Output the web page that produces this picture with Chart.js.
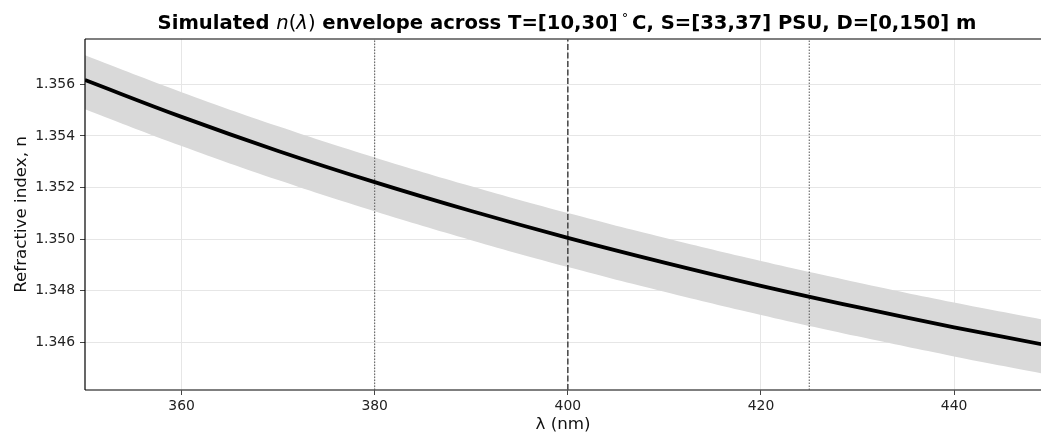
<!DOCTYPE html>
<html>
<head>
<meta charset="utf-8">
<script src="https://cdn.jsdelivr.net/npm/chart.js@4/dist/chart.umd.min.js"></script>
<style>
  body { margin: 0; background: #fff; }
  #wrap { width: 1041px; height: 435px; }
</style>
</head>
<body>
<div id="wrap"><canvas id="myCanvas"></canvas></div>
<script>
// wavelengths (nm) and refractive index
const wavelengths = [350, 360, 370, 380, 390, 400, 410, 420, 430, 440, 450];
const nMean  = [1.35617, 1.35474, 1.35342, 1.35221, 1.35109, 1.35005, 1.34909, 1.34819, 1.34736, 1.34658, 1.34586];
const nUpper = [1.35713, 1.35570, 1.35438, 1.35317, 1.35205, 1.35101, 1.35005, 1.34915, 1.34832, 1.34754, 1.34682];
const nLower = [1.35504, 1.35361, 1.35229, 1.35108, 1.34996, 1.34892, 1.34796, 1.34706, 1.34623, 1.34545, 1.34473];
const dottedAt = [380, 425];
const dashedAt = [400];
const xTicks = [360, 380, 400, 420, 440];
const yTicks = [1.346, 1.348, 1.350, 1.352, 1.354, 1.356];

const X_MIN = 350, X_MAX = 449, Y_MIN = 1.34415, Y_MAX = 1.35776;

const pts = arr => wavelengths.map((w, i) => ({ x: w, y: arr[i] }));
const vline = x => [{ x: x, y: Y_MIN }, { x: x, y: Y_MAX }];

// lower "order" is drawn on top
const datasets = [
    { data: pts(nLower), borderWidth: 0, pointRadius: 0, fill: false, tension: 0.4, order: 5 },
    { data: pts(nUpper), borderWidth: 0, pointRadius: 0, fill: '-1', backgroundColor: '#d9d9d9', tension: 0.4, order: 4 },
];
dottedAt.forEach(x => datasets.push({
    data: vline(x), borderColor: '#555', borderWidth: 1, borderDash: [1.5, 1.5], pointRadius: 0, fill: false, order: 2
}));
dashedAt.forEach(x => datasets.push({
    data: vline(x), borderColor: '#444', borderWidth: 1.5, borderDash: [6, 2.5], pointRadius: 0, fill: false, order: 2
}));
datasets.push({ data: pts(nMean), borderColor: '#000', borderWidth: 3.8, pointRadius: 0, fill: false, tension: 0.4, order: 0 });

// title with italic n(λ) and frame lines
const decor = {
    id: 'decor',
    afterDraw(chart) {
        const ctx = chart.ctx, a = chart.chartArea;
        ctx.save();
        ctx.strokeStyle = '#555';
        ctx.lineWidth = 1.5;
        ctx.beginPath();
        ctx.moveTo(a.left, a.top); ctx.lineTo(a.right, a.top);
        ctx.moveTo(a.left, a.bottom); ctx.lineTo(a.right, a.bottom);
        ctx.stroke();
        ctx.strokeStyle = '#000';
        ctx.lineWidth = 1.2;
        ctx.beginPath();
        ctx.moveTo(a.left, a.top); ctx.lineTo(a.left, a.bottom);
        ctx.stroke();

        const parts = [
            ['Simulated ', 'bold 19.6px "DejaVu Sans"'],
            ['n', 'italic 19.6px "DejaVu Sans"'],
            ['(', '19.6px "DejaVu Sans"'],
            ['λ', 'italic 19.6px "DejaVu Sans"'],
            [')', '19.6px "DejaVu Sans"'],
            [' envelope across T=[10,30]\u2009', 'bold 19.6px "DejaVu Sans"'],
            ['°', '13px "DejaVu Sans"'],
            ['\u2009C, S=[33,37] PSU, D=[0,150] m', 'bold 19.6px "DejaVu Sans"'],
        ];
        let total = 0;
        parts.forEach(p => { ctx.font = p[1]; total += ctx.measureText(p[0]).width; });
        let x = (a.left + a.right) / 2 - total / 2 + 4;
        ctx.fillStyle = '#000';
        ctx.textBaseline = 'alphabetic';
        parts.forEach(p => {
            ctx.font = p[1];
            ctx.fillText(p[0], x, p[0] === '°' ? 22 : 29);
            x += ctx.measureText(p[0]).width;
        });
        ctx.restore();
    }
};

new Chart(document.getElementById('myCanvas'), {
    type: 'line',
    data: { datasets: datasets },
    plugins: [decor],
    options: {
        responsive: true,
        maintainAspectRatio: false,
        animation: false,
        layout: { padding: { top: 39, right: 0, left: 0, bottom: 0 } },
        plugins: { legend: { display: false }, tooltip: { enabled: false } },
        scales: {
            x: {
                type: 'linear', min: X_MIN, max: X_MAX,
                afterBuildTicks: s => { s.ticks = xTicks.map(v => ({ value: v })); },
                afterFit: s => { s.height = 45; },
                ticks: { color: '#222', font: { family: 'DejaVu Sans', size: 13.9 }, padding: 3, maxRotation: 0 },
                grid: { color: '#e6e6e6', lineWidth: 1, tickLength: 5, tickColor: '#444' },
                border: { display: false },
                title: { display: true, text: 'λ (nm)', color: '#111', font: { family: 'DejaVu Sans', size: 16.7 }, padding: { top: 0, bottom: 0 } }
            },
            y: {
                type: 'linear', min: Y_MIN, max: Y_MAX,
                afterBuildTicks: s => { s.ticks = yTicks.map(v => ({ value: v })); },
                afterFit: s => { s.width = 85; },
                ticks: { color: '#222', font: { family: 'DejaVu Sans', size: 13.9 }, padding: 5, callback: v => v.toFixed(3) },
                grid: { color: '#e6e6e6', lineWidth: 1, tickLength: 5, tickColor: '#444' },
                border: { display: false },
                title: { display: true, text: 'Refractive index, n', color: '#111', font: { family: 'DejaVu Sans', size: 16.7 }, padding: { top: 12, bottom: 4 } }
            }
        }
    }
});
</script>
</body>
</html>
